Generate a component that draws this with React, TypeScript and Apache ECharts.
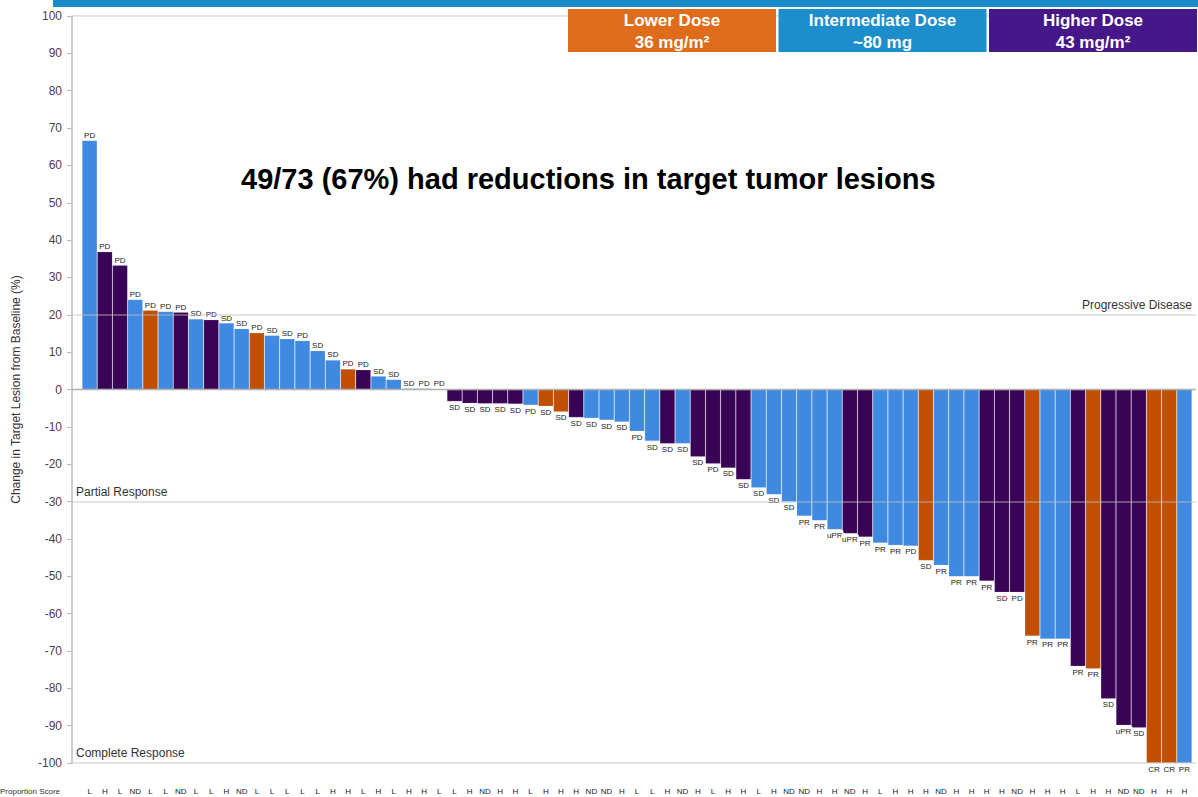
import React, { useEffect, useRef } from "react";
import * as echarts from "echarts";

// Proportion score shown under each patient bar
const proportionScore = [
  "L", "H", "L", "ND", "L", "L", "ND", "L", "L", "H", "ND", "L", "L", "L", "L", "L", "H", "H", "L", "H",
  "L", "H", "H", "L", "L", "H", "ND", "H", "H", "L", "H", "H", "H", "ND", "ND", "H", "L", "L", "H", "ND",
  "H", "L", "H", "H", "L", "H", "ND", "ND", "H", "H", "ND", "H", "L", "H", "H", "H", "ND", "H", "H", "H",
  "H", "ND", "H", "H", "H", "L", "H", "H", "ND", "ND", "H", "H", "H",
];

// Best % change in target lesion from baseline
const changePct = [
  66.7, 36.9, 33.3, 24.1, 21.2, 20.9, 20.7, 18.9, 18.7, 17.8, 16.3, 15.2, 14.5, 13.6, 13.1, 10.4, 7.9, 5.5, 5.3, 3.6,
  2.7, 0.3, 0.3, 0.2, -3.2, -3.7, -3.8, -3.8, -3.9, -4.2, -4.5, -6.0, -7.5, -7.7, -8.2, -8.7, -11.2, -13.8, -14.5, -14.5,
  -18.0, -19.9, -21.0, -24.1, -26.3, -28.1, -30.1, -33.9, -35.1, -37.5, -38.6, -39.5, -41.1, -41.7, -41.9, -45.8, -47.1, -50.1, -50.1, -51.3,
  -54.3, -54.3, -66.0, -66.8, -66.8, -74.1, -74.8, -82.8, -89.9, -90.6, -100, -100, -100,
];

// Dose group: L = lower (36 mg/m2), I = intermediate (~80 mg), H = higher (43 mg/m2)
const doseGroup = [
  "I", "H", "H", "I", "L", "I", "H", "I", "H", "I", "I", "L", "I", "I", "I", "I", "I", "L", "H", "I",
  "I", "I", "I", "H", "H", "H", "H", "H", "H", "I", "L", "L", "H", "I", "I", "I", "I", "I", "H", "I",
  "H", "H", "H", "H", "I", "I", "I", "I", "I", "I", "H", "H", "I", "I", "I", "L", "I", "I", "I", "H",
  "H", "H", "L", "I", "I", "H", "L", "H", "H", "H", "L", "L", "I",
];

// Best overall response
const response = [
  "PD", "PD", "PD", "PD", "PD", "PD", "PD", "SD", "PD", "SD", "SD", "PD", "SD", "SD", "PD", "SD", "SD", "PD", "PD", "SD",
  "SD", "SD", "PD", "PD", "SD", "SD", "SD", "SD", "SD", "PD", "SD", "SD", "SD", "SD", "SD", "SD", "PD", "SD", "SD", "SD",
  "SD", "PD", "SD", "SD", "SD", "SD", "SD", "PR", "PR", "uPR", "uPR", "PR", "PR", "PR", "PD", "SD", "PR", "PR", "PR", "PR",
  "SD", "PD", "PR", "PR", "PR", "PR", "PR", "SD", "uPR", "SD", "CR", "CR", "PR",
];

const legendNames = ["Lower Dose", "Intermediate Dose", "Higher Dose"];
const legendDoses = ["36 mg/m²", "~80 mg", "43 mg/m²"];
const legendColors = ["#de6c1b", "#1b8ecb", "#461789"];

const barColors: Record<string, string> = { L: "#c04f02", I: "#3f8ae0", H: "#3a0456" };

const thresholds = [20, -30, -100];
const thresholdNames = ["Progressive Disease", "Partial Response", "Complete Response"];

const titleText = "49/73 (67%) had reductions in target tumor lesions";
const yAxisName = "Change in Target Lesion from Baseline (%)";

const FONT = "'Liberation Sans', Arial, Helvetica, sans-serif";

export default function App() {
  const ref = useRef<HTMLDivElement>(null);

  useEffect(() => {
    if (!ref.current) return;
    const chart = echarts.init(ref.current, undefined, { renderer: "svg" });

    const barData = changePct.map((v, i) => ({
      value: v,
      itemStyle: { color: barColors[doseGroup[i]] },
      label: { position: v >= 0 ? "top" : "bottom" },
    }));

    const markData: any[] = thresholds.map((t, i) => ({
      yAxis: t,
      label: {
        show: true,
        formatter: thresholdNames[i],
        position: i === 0 ? "insideEndTop" : "insideStartTop",
        color: "#333",
        fontSize: 12,
        fontFamily: FONT,
        distance: 4,
      },
    }));
    markData.push({ yAxis: 100, label: { show: false } });

    const legendGraphics: any[] = [];
    legendNames.forEach((n, i) => {
      const x = 568 + i * 210.5;
      legendGraphics.push({
        type: "rect",
        shape: { x, y: 9, width: 208, height: 43 },
        style: { fill: legendColors[i] },
        z: 10,
      });
      legendGraphics.push({
        type: "text",
        x: x + 104,
        y: 31,
        z: 11,
        style: {
          text: n + "\n" + legendDoses[i],
          fill: "#fff",
          font: `bold 17px ${FONT}`,
          align: "center",
          verticalAlign: "middle",
          lineHeight: 22,
        },
      });
    });

    const option: any = {
      animation: false,
      backgroundColor: "#fff",
      textStyle: { fontFamily: FONT },
      title: {
        text: titleText,
        left: 236,
        top: 159,
        textStyle: { fontSize: 29, fontWeight: "bold", color: "#000", fontFamily: FONT },
      },
      graphic: [
        { type: "rect", shape: { x: 53, y: 0, width: 1145, height: 7 }, style: { fill: "#1a8bc8" } },
        ...legendGraphics,
        {
          type: "text",
          x: 0,
          y: 791,
          style: { text: "Proportion Score", fill: "#333", font: `8px ${FONT}`, verticalAlign: "middle" },
        },
      ],
      grid: [
        { left: 82, right: 6, top: 16, bottom: 34 },
        { left: 72, right: 2, top: 16, bottom: 34 },
      ],
      xAxis: [
        {
          type: "category",
          gridIndex: 0,
          data: proportionScore,
          boundaryGap: true,
          axisLine: { show: false },
          axisTick: { show: false },
          axisLabel: { interval: 0, fontSize: 8, color: "#222", margin: 24 },
          splitLine: { show: false },
        },
        { type: "value", gridIndex: 1, min: 0, max: 1, show: false },
      ],
      yAxis: [
        { type: "value", gridIndex: 0, min: -100, max: 100, show: false },
        {
          type: "value",
          gridIndex: 1,
          min: -100,
          max: 100,
          interval: 10,
          name: yAxisName,
          nameLocation: "middle",
          nameGap: 50,
          nameTextStyle: { fontSize: 12, color: "#333" },
          axisLine: { show: true, lineStyle: { color: "#bbb", width: 1.5 } },
          axisTick: { show: true, length: 5, lineStyle: { color: "#bbb" } },
          axisLabel: { fontSize: 12, color: "#444", margin: 10 },
          splitLine: { show: false },
        },
      ],
      series: [
        {
          type: "bar",
          xAxisIndex: 0,
          yAxisIndex: 0,
          data: barData,
          barCategoryGap: "0%",
          itemStyle: { borderColor: "rgba(255,255,255,0.22)", borderWidth: 0.6 },
          label: {
            show: true,
            fontSize: 8,
            color: "#222",
            backgroundColor: "#fff",
            padding: [1, 1, 0, 1],
            distance: 1,
            formatter: (p: any) => response[p.dataIndex],
          },
          z: 2,
        },
        {
          type: "line",
          xAxisIndex: 1,
          yAxisIndex: 1,
          data: [
            [0, 0],
            [1, 0],
          ],
          symbol: "none",
          silent: true,
          lineStyle: { color: "#b0b0b0", width: 1.5 },
          z: 4,
          markLine: {
            silent: true,
            symbol: "none",
            lineStyle: { color: "rgba(190,190,190,0.55)", width: 1.5, type: "solid" },
            data: markData,
          },
        },
      ],
    };

    chart.setOption(option);
    return () => chart.dispose();
  }, []);

  return (
    <div
      ref={ref}
      style={{ position: "absolute", left: 0, top: 0, width: 1198, height: 797 }}
    />
  );
}
